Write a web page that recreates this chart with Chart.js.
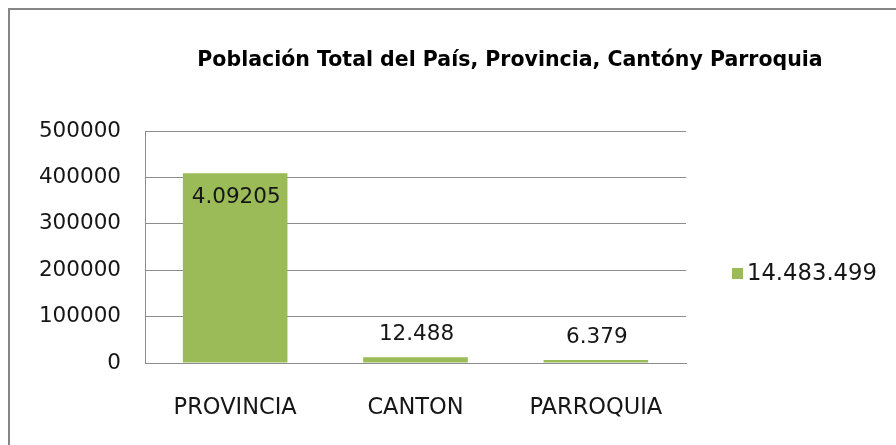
<!DOCTYPE html>
<html>
<head>
<meta charset="utf-8">
<script src="https://cdn.jsdelivr.net/npm/chart.js@4.4.1/dist/chart.umd.min.js"></script>
<style>
  html, body { margin: 0; padding: 0; background: #ffffff; overflow: hidden; }
  #wrap { position: relative; width: 896px; height: 445px; overflow: hidden; }
  #frame { position: absolute; left: 8px; top: 8px; width: 1000px; height: 1000px; border: 2px solid #868686; box-sizing: border-box; }
  canvas { position: absolute; left: 0; top: 0; }
</style>
</head>
<body>
<div id="wrap">
  <div id="frame"></div>
  <canvas id="c" width="896" height="445"></canvas>
</div>
<script>
const titleText = "Población Total del País, Provincia, Cantóny Parroquia";
const categories = ["PROVINCIA", "CANTON", "PARROQUIA"];
const values = [409205, 12488, 6379];
const valueLabels = ["4.09205", "12.488", "6.379"];
const seriesName = "14.483.499";
const yMin = 0, yMax = 500000, yStep = 100000;

const FONT = "'DejaVu Sans', sans-serif";
const TEXT = "#161616";
const GREEN = "#9BBB59";
const GRID = "#8c8c8c";

const titlePlugin = {
  id: 'customTitle',
  afterDraw(chart) {
    const ctx = chart.ctx;
    ctx.save();
    ctx.font = "bold 20.5px " + FONT;
    ctx.fillStyle = "#000000";
    ctx.textAlign = "center";
    ctx.textBaseline = "middle";
    ctx.fillText(titleText, 510, 61);
    ctx.restore();
  }
};

const dataLabelPlugin = {
  id: 'dataLabels',
  afterDatasetsDraw(chart) {
    const ctx = chart.ctx;
    const meta = chart.getDatasetMeta(0);
    ctx.save();
    ctx.font = "21.5px " + FONT;
    ctx.fillStyle = TEXT;
    ctx.textAlign = "center";
    ctx.textBaseline = "middle";
    meta.data.forEach((bar, i) => {
      const h = bar.base - bar.y;
      const y = h > 60 ? bar.y + 24 : bar.y - 23;
      ctx.fillText(valueLabels[i], bar.x + 1, y);
    });
    ctx.restore();
  }
};

const legendPlugin = {
  id: 'customLegend',
  afterDraw(chart) {
    const ctx = chart.ctx;
    const area = chart.chartArea;
    const cy = (area.top + area.bottom) / 2 + 27;
    const x0 = area.right + 46;
    ctx.save();
    ctx.fillStyle = chart.data.datasets[0].backgroundColor;
    ctx.fillRect(x0, cy - 6, 11, 11);
    ctx.font = "22.7px " + FONT;
    ctx.fillStyle = TEXT;
    ctx.textAlign = "left";
    ctx.textBaseline = "middle";
    ctx.fillText(chart.data.datasets[0].label, x0 + 15, cy);
    ctx.restore();
  }
};

new Chart(document.getElementById('c'), {
  type: 'bar',
  data: {
    labels: categories,
    datasets: [{
      label: seriesName,
      data: values,
      backgroundColor: GREEN,
      borderWidth: 0,
      barPercentage: 0.58,
      categoryPercentage: 1.0
    }]
  },
  options: {
    responsive: false,
    animation: false,
    devicePixelRatio: 1,
    layout: { padding: { left: 0, right: 210, top: 131, bottom: 12 } },
    plugins: {
      legend: { display: false },
      tooltip: { enabled: false },
      title: { display: false }
    },
    scales: {
      x: {
        afterFit(scale) { scale.height = 70; },
        grid: { display: false, drawTicks: false },
        border: { display: true, color: GRID, width: 1 },
        ticks: { color: TEXT, font: { family: FONT, size: 22.5 }, padding: 32 }
      },
      y: {
        min: yMin, max: yMax,
        afterFit(scale) { scale.width = 145; },
        grid: { color: GRID, lineWidth: 1, drawTicks: false },
        border: { display: true, color: GRID, width: 1 },
        ticks: {
          stepSize: yStep,
          color: TEXT,
          font: { family: FONT, size: 21.5 },
          padding: 24,
          callback: v => String(v)
        }
      }
    }
  },
  plugins: [dataLabelPlugin, legendPlugin, titlePlugin]
});
</script>
</body>
</html>
